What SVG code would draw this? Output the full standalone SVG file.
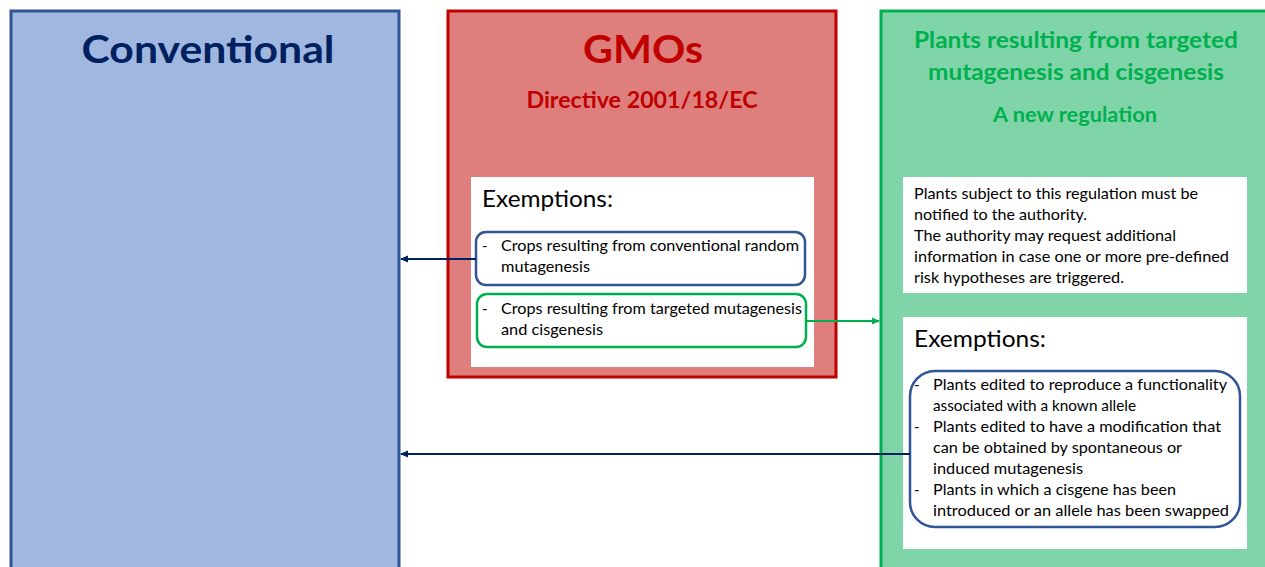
<svg xmlns="http://www.w3.org/2000/svg" width="1265" height="567" viewBox="0 0 1265 567">
<style>
.t{font-family:Lato,"Liberation Sans",sans-serif}
.b{font-weight:bold}
.body{font-size:15px;fill:#000}
.ex{font-size:24px;fill:#000}
.conn{fill:none;stroke-width:2}
</style>
<defs>
<marker id="ahNavy" markerWidth="8" markerHeight="8" refX="7" refY="4" orient="auto" markerUnits="userSpaceOnUse">
<path d="M0,0.5 L8,4 L0,7.5 Z" fill="#002060"/>
</marker>
<marker id="ahGreen" markerWidth="8" markerHeight="8" refX="7" refY="4" orient="auto" markerUnits="userSpaceOnUse">
<path d="M0,0.5 L8,4 L0,7.5 Z" fill="#00B050"/>
</marker>
</defs>
<rect width="1265" height="567" fill="#fff"/>

<g id="conventional">
<rect x="11" y="11" width="388" height="570" fill="#A0B7E0" stroke="#2F5597" stroke-width="3"/>
<text class="t b" x="208" y="63" text-anchor="middle" font-size="38" fill="#002060" textLength="253" lengthAdjust="spacingAndGlyphs">Conventional</text>
</g>

<g id="gmos">
<rect x="448" y="11" width="388" height="366" fill="#DE7F7D" stroke="#C00000" stroke-width="3"/>
<text class="t b" x="643" y="63" text-anchor="middle" font-size="38" fill="#C00000" textLength="120" lengthAdjust="spacingAndGlyphs">GMOs</text>
<text class="t b" x="642" y="108" text-anchor="middle" font-size="22" fill="#C00000" textLength="231" lengthAdjust="spacingAndGlyphs">Directive 2001/18/EC</text>
<rect x="471" y="177" width="343" height="190" fill="#fff"/>
<text class="t ex" x="482" y="207" textLength="131" lengthAdjust="spacingAndGlyphs">Exemptions:</text>
</g>

<g id="gmo-ex-conventional">
<rect x="476" y="232" width="329" height="53" rx="10" fill="#fff" stroke="#2F5597" stroke-width="2.5"/>
<text class="t body" x="482" y="251">-</text>
<text class="t body" x="501" y="251" textLength="298" lengthAdjust="spacingAndGlyphs">Crops resulting from conventional random</text>
<text class="t body" x="501" y="272" textLength="89" lengthAdjust="spacingAndGlyphs">mutagenesis</text>
</g>

<g id="gmo-ex-targeted">
<rect x="477" y="294" width="329" height="53" rx="10" fill="#fff" stroke="#00B050" stroke-width="2.5"/>
<text class="t body" x="482" y="314">-</text>
<text class="t body" x="501" y="314" textLength="301" lengthAdjust="spacingAndGlyphs">Crops resulting from targeted mutagenesis</text>
<text class="t body" x="501" y="335" textLength="102" lengthAdjust="spacingAndGlyphs">and cisgenesis</text>
</g>

<g id="new-regulation">
<rect x="881" y="11" width="400" height="570" fill="#80D5A8" stroke="#00B050" stroke-width="3"/>
<text class="t b" x="1076" y="48" text-anchor="middle" font-size="23" fill="#00B050" textLength="324" lengthAdjust="spacingAndGlyphs">Plants resulting from targeted</text>
<text class="t b" x="1076" y="80" text-anchor="middle" font-size="23" fill="#00B050" textLength="296" lengthAdjust="spacingAndGlyphs">mutagenesis and cisgenesis</text>
<text class="t b" x="1075" y="122" text-anchor="middle" font-size="20" fill="#00B050" textLength="164" lengthAdjust="spacingAndGlyphs">A new regulation</text>
</g>

<g id="notification">
<rect x="903" y="177" width="344" height="116" fill="#fff"/>
<text class="t body" x="914" y="199" textLength="284" lengthAdjust="spacingAndGlyphs">Plants subject to this regulation must be</text>
<text class="t body" x="914" y="220" textLength="173" lengthAdjust="spacingAndGlyphs">notified to the authority.</text>
<text class="t body" x="914" y="241" textLength="262" lengthAdjust="spacingAndGlyphs">The authority may request additional</text>
<text class="t body" x="914" y="262" textLength="315" lengthAdjust="spacingAndGlyphs">information in case one or more pre-defined</text>
<text class="t body" x="914" y="283" textLength="210" lengthAdjust="spacingAndGlyphs">risk hypotheses are triggered.</text>
</g>

<g id="new-exemptions">
<rect x="903" y="317" width="344" height="232" fill="#fff"/>
<text class="t ex" x="914" y="347" textLength="132" lengthAdjust="spacingAndGlyphs">Exemptions:</text>
<rect x="910" y="371" width="330" height="156" rx="25" fill="none" stroke="#2F5597" stroke-width="2.5"/>
<text class="t body" x="914" y="390">-</text>
<text class="t body" x="933" y="390" textLength="294" lengthAdjust="spacingAndGlyphs">Plants edited to reproduce a functionality</text>
<text class="t body" x="933" y="411" textLength="203" lengthAdjust="spacingAndGlyphs">associated with a known allele</text>
<text class="t body" x="914" y="432">-</text>
<text class="t body" x="933" y="432" textLength="288" lengthAdjust="spacingAndGlyphs">Plants edited to have a modification that</text>
<text class="t body" x="933" y="453" textLength="249" lengthAdjust="spacingAndGlyphs">can be obtained by spontaneous or</text>
<text class="t body" x="933" y="474" textLength="150" lengthAdjust="spacingAndGlyphs">induced mutagenesis</text>
<text class="t body" x="914" y="495">-</text>
<text class="t body" x="933" y="495" textLength="243" lengthAdjust="spacingAndGlyphs">Plants in which a cisgene has been</text>
<text class="t body" x="933" y="516" textLength="296" lengthAdjust="spacingAndGlyphs">introduced or an allele has been swapped</text>
</g>

<g id="connectors">
<line class="conn" x1="476" y1="259" x2="401" y2="259" stroke="#002060" marker-end="url(#ahNavy)"/>
<line class="conn" x1="806" y1="321" x2="879" y2="321" stroke="#00B050" marker-end="url(#ahGreen)"/>
<line class="conn" x1="910" y1="454" x2="401" y2="454" stroke="#002060" marker-end="url(#ahNavy)"/>
</g>
</svg>
